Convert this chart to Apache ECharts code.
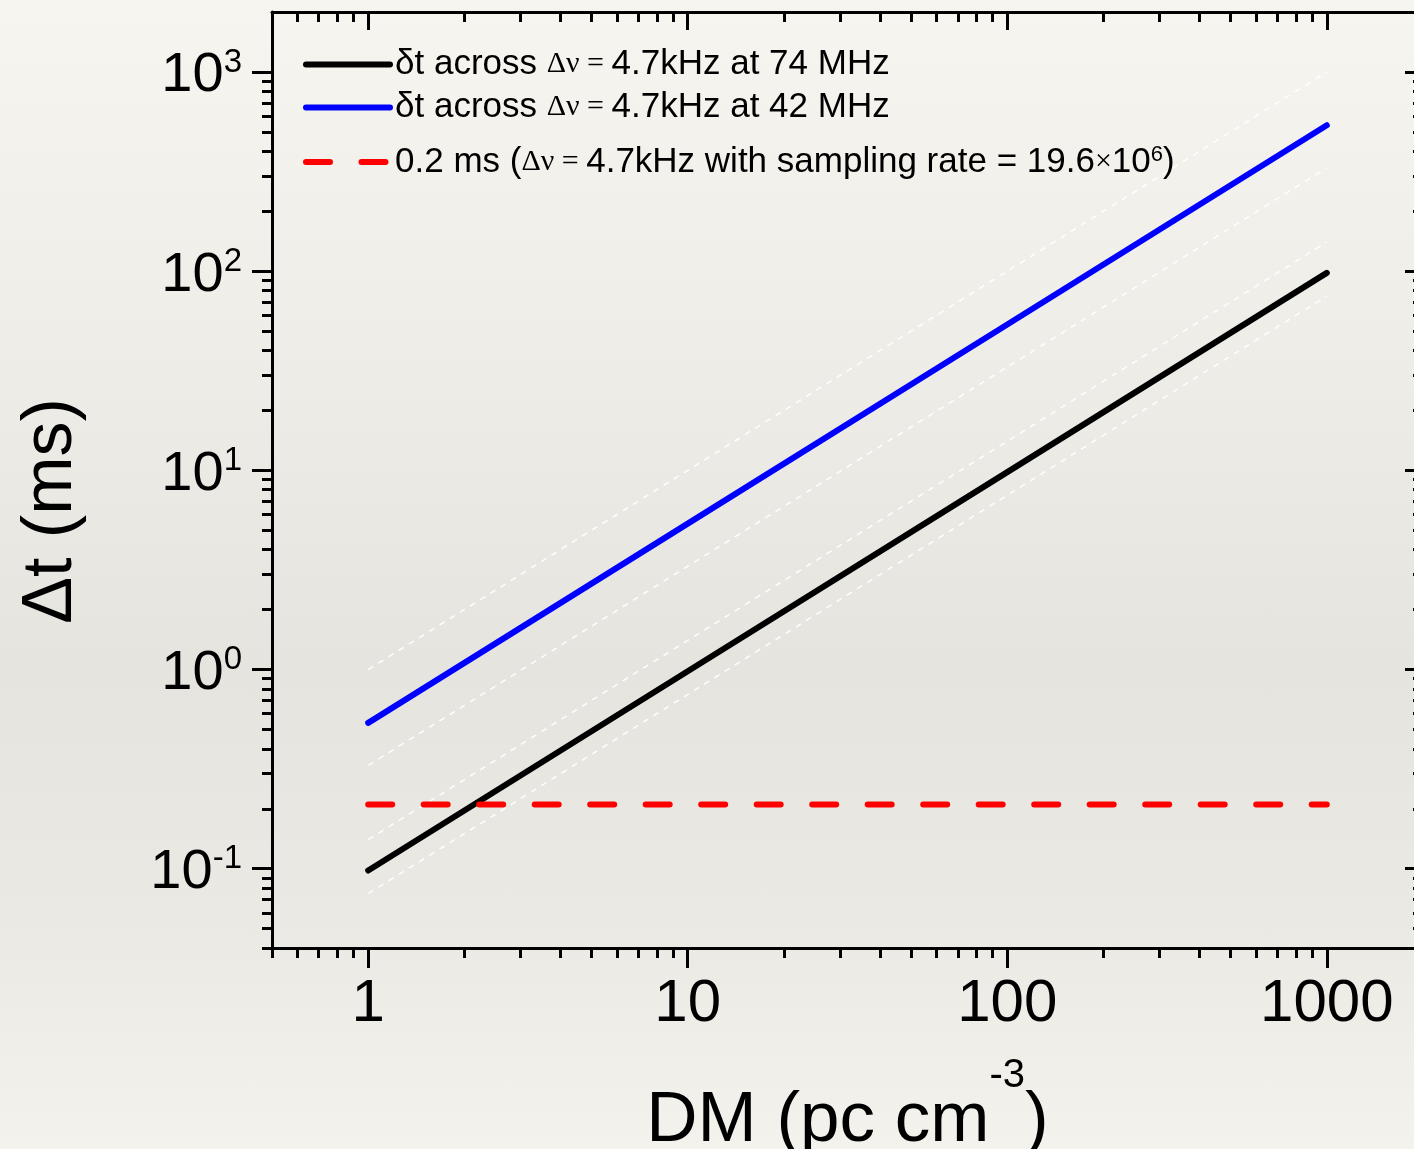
<!DOCTYPE html>
<html>
<head>
<meta charset="utf-8">
<script src="https://cdn.jsdelivr.net/npm/echarts@6/dist/echarts.min.js"></script>
<style>
  html, body { margin: 0; padding: 0; }
  #chart {
    width: 1414px;
    height: 1149px;
    background: linear-gradient(180deg, #f7f5f0 0%, #efede8 30%, #e6e4df 58%, #ebe9e4 80%, #f4f2ec 100%);
  }
</style>
</head>
<body>
<div id="chart"></div>
<script>
// DM values (pc cm^-3) where the curves were read
const dm = [1, 10, 100, 1000]
// smearing time (ms)
const dt74 = [0.098, 0.98, 9.8, 98]
const dt42 = [0.54, 5.4, 54, 540]
const dtSampling = [0.21, 0.21, 0.21, 0.21]
// thin white dashed guides
const guide1 = [1.0, 10, 100, 1000]
const guide2 = [0.33, 3.3, 33, 330]
const guide3 = [0.14, 1.4, 14, 140]
const guide4 = [0.075, 0.75, 7.5, 75]

// tick values
const xMajor = [1, 10, 100, 1000]
const xMinor = [0.5, 0.6, 0.7, 0.8, 0.9, 2, 3, 4, 5, 6, 7, 8, 9, 20, 30, 40, 50, 60, 70, 80, 90,
  200, 300, 400, 500, 600, 700, 800, 900, 2000]
const yMajor = [0.1, 1, 10, 100, 1000]
const yMinor = [0.04, 0.05, 0.06, 0.07, 0.08, 0.09, 0.2, 0.3, 0.4, 0.5, 0.6, 0.7, 0.8, 0.9,
  2, 3, 4, 5, 6, 7, 8, 9, 20, 30, 40, 50, 60, 70, 80, 90, 200, 300, 400, 500, 600, 700, 800, 900]
const yExponent = { 0.1: '-1', 1: '0', 10: '1', 100: '2', 1000: '3' }

const legendNames = ['74 MHz', '42 MHz', '0.2 ms']
const legendText = {
  '74 MHz': '{s|δt across }{g|Δν = }{s|4.7kHz at 74 MHz}',
  '42 MHz': '{s|δt across }{g|Δν = }{s|4.7kHz at 42 MHz}',
  '0.2 ms': '{s|0.2 ms (}{g|Δν = }{s|4.7kHz with sampling rate = 19.6}{g|×}{s|10}{p|6}{s|)}'
}

const pairs = (ys) => dm.map((d, i) => [d, ys[i]])
const sans = 'Liberation Sans, Arial, Helvetica, sans-serif'
const serif = 'Liberation Serif, Times New Roman, serif'

const legendRich = {
  s: { fontFamily: sans, fontSize: 35, color: '#000', lineHeight: 36 },
  g: { fontFamily: serif, fontSize: 30, color: '#000', lineHeight: 36 },
  p: { fontFamily: sans, fontSize: 22, color: '#000', verticalAlign: 'top', lineHeight: 4 }
}

const makeLegend = (name, top) => ({
  data: [name],
  left: 303,
  top: top,
  padding: 0,
  itemWidth: 84,
  itemHeight: 14,
  lineStyle: { width: 6 },
  itemStyle: { opacity: 0 },
  selectedMode: false,
  formatter: (n) => legendText[n],
  textStyle: { rich: legendRich }
})

const minorTick = { length: 10, lineStyle: { color: '#000', width: 3 } }

const chart = echarts.init(document.getElementById('chart'))
const option = {
  animation: false,
  grid: { left: 272, top: 12, right: -9, bottom: 201, containLabel: false, outerBoundsMode: 'none' },
  legend: [
    makeLegend(legendNames[0], 47),
    makeLegend(legendNames[1], 90),
    makeLegend(legendNames[2], 144)
  ],
  xAxis: [
    {
      type: 'log', min: 0.5, max: 2000, position: 'bottom',
      axisLine: { lineStyle: { color: '#000', width: 3 } },
      axisTick: { customValues: xMajor, length: 20, lineStyle: { color: '#000', width: 3 } },
      axisLabel: {
        customValues: xMajor, margin: 26, fontSize: 60, fontFamily: sans, color: '#000',
        formatter: (v) => String(v)
      },
      splitLine: { show: false },
      name: '{a|DM (pc cm}{p|-3}{a|)}',
      nameLocation: 'middle',
      nameGap: 108,
      nameTextStyle: {
        rich: {
          a: { fontFamily: sans, fontSize: 71, color: '#000', lineHeight: 130 },
          p: { fontFamily: sans, fontSize: 40, color: '#000', verticalAlign: 'top', lineHeight: 44 }
        }
      }
    },
    {
      type: 'log', min: 0.5, max: 2000, position: 'bottom',
      axisLine: { show: false },
      axisTick: Object.assign({ customValues: xMinor }, minorTick),
      axisLabel: { show: false },
      splitLine: { show: false }
    },
    {
      type: 'log', min: 0.5, max: 2000, position: 'top',
      axisLine: { lineStyle: { color: '#000', width: 3 } },
      axisTick: { customValues: xMajor, inside: true, length: 18, lineStyle: { color: '#000', width: 3 } },
      axisLabel: { show: false },
      splitLine: { show: false }
    },
    {
      type: 'log', min: 0.5, max: 2000, position: 'top',
      axisLine: { show: false },
      axisTick: Object.assign({ customValues: xMinor, inside: true }, minorTick),
      axisLabel: { show: false },
      splitLine: { show: false }
    }
  ],
  yAxis: [
    {
      type: 'log', min: 0.04, max: 2000, position: 'left',
      axisLine: { lineStyle: { color: '#000', width: 3 } },
      axisTick: { customValues: yMajor, length: 20, lineStyle: { color: '#000', width: 3 } },
      axisLabel: {
        customValues: yMajor,
        margin: 30,
        padding: [8, 0, 0, 0],
        formatter: (v) => '{b|10}{e|' + yExponent[v] + '}',
        rich: {
          b: { fontFamily: sans, fontSize: 56, color: '#000', lineHeight: 60 },
          e: { fontFamily: sans, fontSize: 33, color: '#000', verticalAlign: 'top', lineHeight: 30 }
        }
      },
      splitLine: { show: false },
      name: 'Δt (ms)',
      nameLocation: 'middle',
      nameRotate: 90,
      nameGap: 185,
      nameTextStyle: { fontFamily: sans, fontSize: 70, color: '#000', padding: [0, 62, 0, 0] }
    },
    {
      type: 'log', min: 0.04, max: 2000, position: 'left',
      axisLine: { show: false },
      axisTick: Object.assign({ customValues: yMinor }, minorTick),
      axisLabel: { show: false },
      splitLine: { show: false }
    },
    {
      type: 'log', min: 0.04, max: 2000, position: 'right',
      axisLine: { lineStyle: { color: '#000', width: 3 } },
      axisTick: { customValues: yMajor, inside: true, length: 18, lineStyle: { color: '#000', width: 3 } },
      axisLabel: { show: false },
      splitLine: { show: false }
    },
    {
      type: 'log', min: 0.04, max: 2000, position: 'right',
      axisLine: { show: false },
      axisTick: Object.assign({ customValues: yMinor, inside: true }, minorTick),
      axisLabel: { show: false },
      splitLine: { show: false }
    }
  ],
  series: [
    ...[guide1, guide2, guide3, guide4].map((g, i) => ({
      name: 'guide' + (i + 1),
      type: 'line',
      data: pairs(g),
      symbol: 'none',
      silent: true,
      z: 1,
      lineStyle: { color: 'rgba(255,255,255,0.95)', width: 1.5, type: [6, 6] }
    })),
    {
      name: legendNames[0],
      type: 'line',
      data: pairs(dt74),
      symbol: 'none',
      z: 3,
      lineStyle: { color: '#000000', width: 6, cap: 'round' }
    },
    {
      name: legendNames[1],
      type: 'line',
      data: pairs(dt42),
      symbol: 'none',
      z: 4,
      lineStyle: { color: '#0000ff', width: 6, cap: 'round' }
    },
    {
      name: legendNames[2],
      type: 'line',
      data: pairs(dtSampling),
      symbol: 'none',
      z: 5,
      lineStyle: { color: '#ff0000', width: 6, cap: 'round', type: [24, 31.5] }
    }
  ]
}
chart.setOption(option)
</script>
</body>
</html>
